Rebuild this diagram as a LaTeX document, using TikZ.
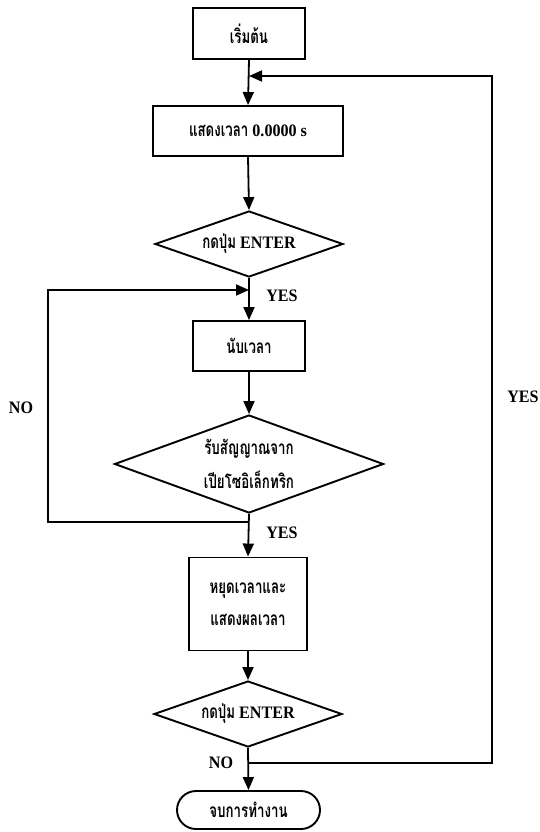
\documentclass[tikz,border=0pt]{standalone}
\usepackage{fontspec}
\setmainfont{Liberation Serif}
\newfontfamily\thaifont[Script=Thai,FakeStretch=0.7]{Loma}
\newfontfamily\latfont[FakeStretch=0.92]{Liberation Serif}
\usetikzlibrary{arrows.meta,shapes.geometric}
\newcommand{\thtxt}[1]{{\thaifont\fontsize{19}{20}\selectfont\bfseries #1}}
\newcommand{\lttxt}[1]{{\latfont\fontsize{17.5}{20}\selectfont\bfseries #1}}
\begin{document}
\begin{tikzpicture}[x=1pt,y=-1pt,
  font=\fontsize{16}{18}\selectfont,
  line/.style={line width=1.8pt,draw=black},
  arr/.style={line,-{Triangle[length=13pt,width=11pt]}},
  procbox/.style={draw=black,line width=1.9pt,rectangle,inner sep=0pt,align=center},
  decide/.style={draw=black,line width=1.9pt,diamond,inner sep=0pt,align=center},
  termbox/.style={draw=black,line width=1.9pt,rectangle,rounded corners=19pt,inner sep=0pt},
  lbl/.style={inner sep=0pt}]
\useasboundingbox (0,0) rectangle (539,832);
\node[procbox,minimum width=112pt,minimum height=51pt] (start) at (249,33.5) {\thtxt{เริ่มต้น}};
\node[procbox,minimum width=190pt,minimum height=50pt] (show) at (248,131) {\thtxt{แสดงเวลา} \lttxt{0.0000 s}};
\node[decide,aspect=2.8,minimum width=188pt,minimum height=66pt] (d1) at (249,244) {\thtxt{กดปุ่ม} \lttxt{ENTER}};
\node[procbox,minimum width=112pt,minimum height=50pt] (count) at (249,346) {\thtxt{นับเวลา}};
\node[decide,aspect=2.7,minimum width=269pt,minimum height=98pt] (d2) at (249,464) {\thtxt{รับสัญญาณจาก}\\[12pt]\thtxt{เปียโซอิเล็กทริก}};
\node[procbox,minimum width=118pt,minimum height=93pt] (stop) at (248,604) {\thtxt{หยุดเวลาและ}\\[14pt]\thtxt{แสดงผลเวลา}};
\node[decide,aspect=2.8,minimum width=188pt,minimum height=66pt] (d3) at (248,714) {\thtxt{กดปุ่ม} \lttxt{ENTER}};
\node[termbox,minimum width=143pt,minimum height=38pt] (end) at (248.5,810) {\thtxt{จบการทำงาน}};

\node[lbl] (yes1) at (282,296) {\lttxt{YES}};
\node[lbl] (yes2) at (282,533) {\lttxt{YES}};
\node[lbl] (no2) at (21,408) {\lttxt{NO}};
\node[lbl] (yesr) at (523,397) {\lttxt{YES}};
\node[lbl] (no3) at (221,763) {\lttxt{NO}};

\coordinate (m1) at (249,76);
\coordinate (r1) at (492,76);
\coordinate (r2) at (492,763);
\coordinate (n3) at (248,763);
\coordinate (m2) at (249,290);
\coordinate (j2) at (249,522);
\coordinate (l1) at (48,522);
\coordinate (l2) at (48,290);

\draw[arr] (start.south) -- (show.north);
\draw[arr] (show.south) -- (d1.north);
\draw[arr] (d1.south) -- (count.north);
\draw[arr] (count.south) -- (d2.north);
\draw[arr] (d2.south) -- (stop.north);
\draw[arr] (stop.south) -- (d3.north);
\draw[arr] (d3.south) -- (end.north);
\draw[arr] (n3) -- (r2) -- (r1) -- (m1);
\draw[arr] (j2) -- (l1) -- (l2) -- (m2);
\end{tikzpicture}
\end{document}
